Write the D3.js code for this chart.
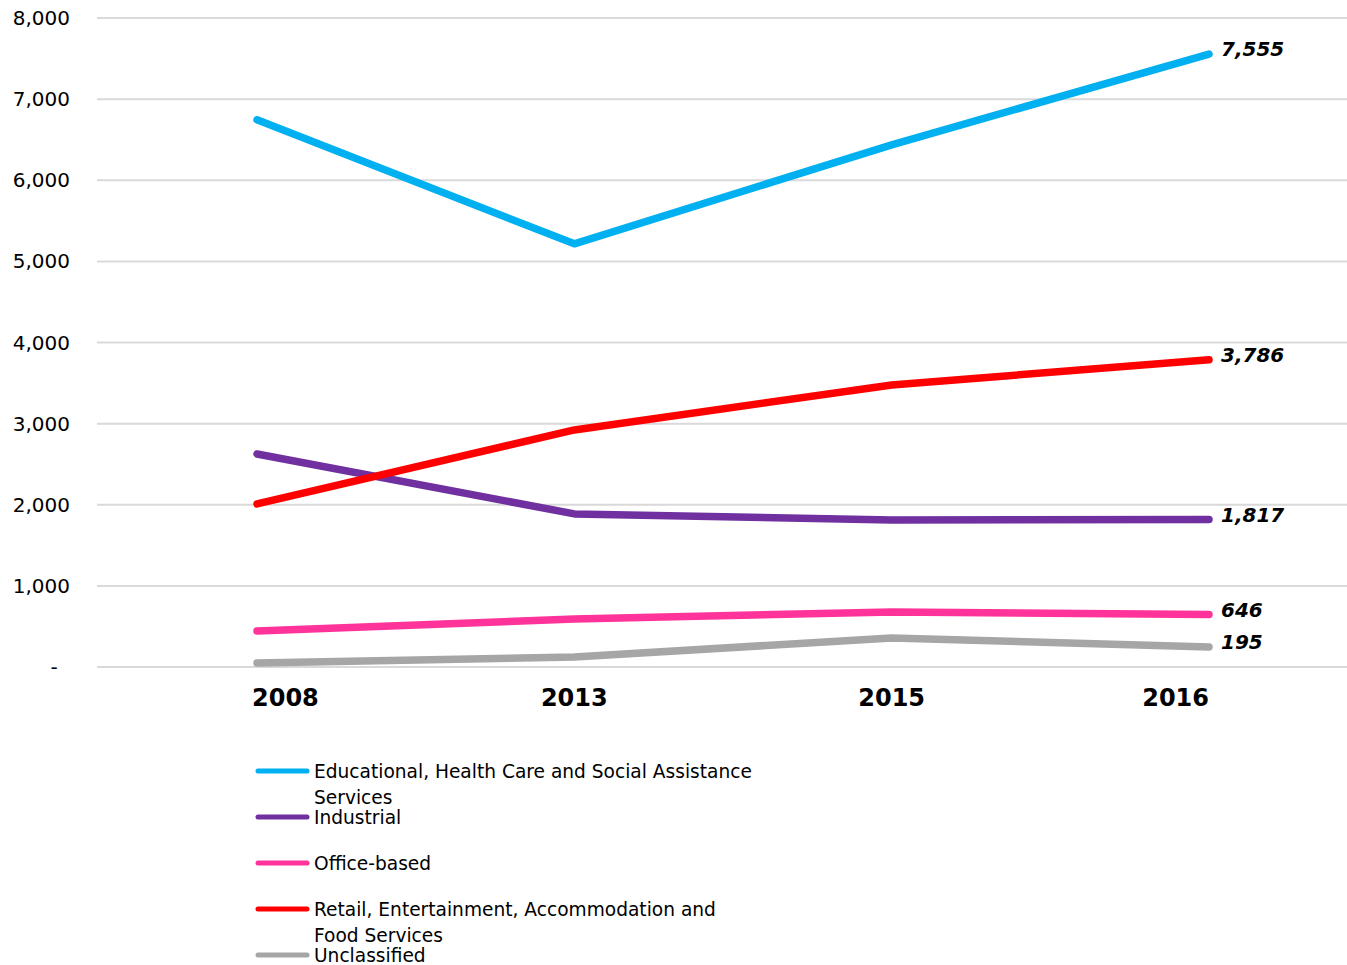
<!DOCTYPE html>
<html>
<head>
<meta charset="utf-8">
<script src="https://cdn.jsdelivr.net/npm/d3@7"></script>
<style>
  body { margin: 0; background: #fff; }
  svg { display: block; font-family: "DejaVu Sans", sans-serif; }
</style>
</head>
<body>
<div id="chart"></div>
<script>
// Data
const years = ["2008", "2013", "2015", "2016"];
const seriesNames = [
  "Educational, Health Care and Social Assistance Services",
  "Industrial",
  "Office-based",
  "Retail, Entertainment, Accommodation and Food Services",
  "Unclassified"
];
const educational = [6745, 5216, 6437, 7555];
const industrial = [2626, 1887, 1813, 1817];
const officeBased = [444, 592, 678, 646];
const retail = [2010, 2922, 3477, 3786];
const unclassified = [49, 123, 358, 247];
const endLabels = ["7,555", "1,817", "646", "3,786", "195"];
const yTicks = [0, 1000, 2000, 3000, 4000, 5000, 6000, 7000, 8000];
const colors = ["#00b0f0", "#7030a0", "#ff3399", "#ff0000", "#a6a6a6"];

const width = 1347, height = 965;
const plot = {left: 97, right: 1347, top: 18, bottom: 667};

const series = seriesNames.map((name, i) => ({
  name: name,
  values: [educational, industrial, officeBased, retail, unclassified][i],
  color: colors[i],
  label: endLabels[i]
}));

const svg = d3.select("#chart").append("svg")
  .attr("width", width)
  .attr("height", height);

const x = d3.scalePoint()
  .domain(years)
  .range([257, 1209]);

const y = d3.scaleLinear()
  .domain([0, 8000])
  .range([plot.bottom, plot.top]);

// grid lines
svg.selectAll(".grid-line")
  .data(yTicks)
  .enter()
  .append("line")
  .attr("class", "grid-line")
  .attr("x1", plot.left)
  .attr("x2", plot.right)
  .attr("y1", d => y(d))
  .attr("y2", d => y(d))
  .attr("stroke", "#d9d9d9")
  .attr("stroke-width", 2);

// y axis labels
svg.selectAll(".y-label")
  .data(yTicks)
  .enter()
  .append("text")
  .attr("class", "y-label")
  .attr("x", d => d === 0 ? 54 : 70)
  .attr("y", d => y(d))
  .attr("dy", "0.35em")
  .attr("text-anchor", d => d === 0 ? "middle" : "end")
  .style("font-size", "20px")
  .style("fill", "#000")
  .text(d => d === 0 ? "-" : d3.format(",")(d));

// x axis labels: first anchored start, last anchored end
svg.selectAll(".x-label")
  .data(years)
  .enter()
  .append("text")
  .attr("class", "x-label")
  .attr("x", (d, i) => i === 0 ? x(d) - 5 : x(d))
  .attr("y", 698)
  .attr("dy", "0.35em")
  .attr("text-anchor", (d, i) => i === 0 ? "start" : (i === years.length - 1 ? "end" : "middle"))
  .style("font-size", "24px")
  .style("font-weight", "bold")
  .text(d => d);

const line = d3.line()
  .x((d, i) => x(years[i]))
  .y(d => y(d));

svg.selectAll(".series")
  .data(series)
  .enter()
  .append("path")
  .attr("class", "series")
  .attr("d", d => line(d.values))
  .attr("fill", "none")
  .attr("stroke", d => d.color)
  .attr("stroke-width", 7.5)
  .attr("stroke-linecap", "round")
  .attr("stroke-linejoin", "round");

// end value labels
svg.selectAll(".end-label")
  .data(series)
  .enter()
  .append("text")
  .attr("class", "end-label")
  .attr("x", x(years[years.length - 1]) + 12)
  .attr("y", d => y(d.values[d.values.length - 1]) - 5)
  .attr("dy", "0.35em")
  .style("font-size", "20px")
  .style("font-weight", "bold")
  .style("font-style", "italic")
  .text(d => d.label);

// legend
const legendLines = [
  ["Educational, Health Care and Social Assistance", "Services"],
  ["Industrial"],
  ["Office-based"],
  ["Retail, Entertainment, Accommodation and", "Food Services"],
  ["Unclassified"]
];

const legend = svg.append("g").attr("class", "legend");
series.forEach((s, i) => {
  const cy = 771 + i * 46;
  legend.append("line")
    .attr("x1", 258)
    .attr("x2", 307)
    .attr("y1", cy)
    .attr("y2", cy)
    .attr("stroke", s.color)
    .attr("stroke-width", 5)
    .attr("stroke-linecap", "round");
  legend.append("text")
    .attr("x", 314)
    .attr("y", cy)
    .style("font-size", "18.6px")
    .selectAll("tspan")
    .data(legendLines[i])
    .enter()
    .append("tspan")
    .attr("x", 314)
    .attr("dy", (d, j) => j === 0 ? "0.35em" : "26px")
    .text(d => d);
});
</script>
</body>
</html>
